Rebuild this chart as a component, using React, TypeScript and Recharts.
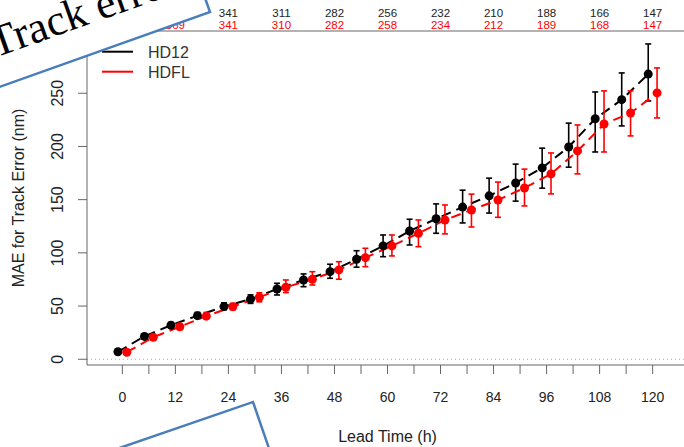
import {
  ComposedChart,
  Line,
  XAxis,
  YAxis,
  ErrorBar,
  ReferenceLine,
  Legend,
  Label,
} from 'recharts'

// lead times (h) and MAE for track error (nm)
const leadTimes = [0, 6, 12, 18, 24, 30, 36, 42, 48, 54, 60, 66, 72, 78, 84, 90, 96, 102, 108, 114, 120]

const hd12Mae = [7, 21.5, 32, 41, 49.5, 56.5, 66, 74.5, 82.3, 94, 106.5, 120.5, 132, 143, 153.6, 165.7, 179.8, 199.5, 226, 244, 268]
const hd12Low = [5, 19, 29.5, 38.5, 46.5, 52.5, 60.4, 68.2, 76.1, 86.5, 96.4, 107.4, 118.4, 128.1, 137.4, 148.6, 160.8, 180.5, 194.8, 219.3, 242.8]
const hd12High = [9, 24, 34.5, 44, 53, 60.5, 71.4, 80.2, 89.3, 102, 116.8, 131.6, 146, 158.9, 170.2, 183.4, 198.4, 221.9, 251.2, 269.1, 296.3]

const hdflMae = [6.6, 20.7, 30.6, 40.5, 49.4, 58.3, 67.7, 75.2, 84, 95.5, 106.5, 118.4, 130.9, 140.3, 149.7, 161, 174.2, 195.8, 221.1, 231.4, 250.3]
const hdflLow = [5, 18.5, 28, 38.5, 46.5, 54, 62.6, 69.8, 75.2, 87, 97.1, 105.8, 117.8, 124.3, 133.4, 144.1, 155.4, 174.2, 194.8, 209.9, 226.8]
const hdflHigh = [8.5, 23, 33, 44, 52.5, 62.5, 74.5, 82.3, 91.7, 104.3, 116.8, 130.9, 145, 155.2, 166.5, 178.7, 193.9, 220.2, 252.2, 252.2, 273.8]

// number of cases along the top
const countTimes = [0, 12, 24, 36, 48, 60, 72, 84, 96, 108, 120]
const hd12Count = [400, 369, 341, 311, 282, 256, 232, 210, 188, 166, 147]
const hdflCount = [400, 369, 341, 310, 282, 258, 234, 212, 189, 168, 147]

const yTicks = [0, 50, 100, 150, 200, 250]

// the two models are drawn 1 h either side of the lead time
const SHIFT = 1

function buildSeries(mae: number[], low: number[], high: number[], shift: number) {
  return leadTimes.map((t, i) => ({
    x: t + shift,
    mae: mae[i],
    err: [mae[i] - low[i], high[i] - mae[i]],
  }))
}

const hd12Data = buildSeries(hd12Mae, hd12Low, hd12High, -SHIFT)
const hdflData = buildSeries(hdflMae, hdflLow, hdflHigh, SHIFT)

const AXIS = '#666'
const TEXT = '#222'

const YTick = ({ x, y, payload }: any) => (
  <text x={x} y={y} transform={`rotate(-90 ${x} ${y})`} textAnchor="middle" fontSize={16} fill={TEXT}>
    {payload.value}
  </text>
)

// bottom tick: lead time label, plus the case counts up in the top margin
const LeadTick = ({ x, y, payload }: any) => {
  const v = payload.value
  const i = countTimes.indexOf(v)
  if (i < 0) return <g />
  return (
    <g>
      <text x={x} y={y} dy="0.71em" textAnchor="middle" fontSize={14} fill={TEXT}>
        {v}
      </text>
      <text x={x} y={17.3} textAnchor="middle" fontSize={11.5} fill={TEXT}>
        {hd12Count[i]}
      </text>
      <text x={x} y={29} textAnchor="middle" fontSize={11.5} fill="#ff0000">
        {hdflCount[i]}
      </text>
    </g>
  )
}

const LegendBox = ({ payload }: any) => (
  <svg width={100} height={44}>
    {(payload || []).map((p: any, i: number) => (
      <g key={p.value}>
        <line x1={2} x2={33} y1={11.7 + i * 20} y2={11.7 + i * 20} stroke={p.color} strokeWidth={2} />
        <text x={48} y={17.5 + i * 20} fontSize={16} fill="#333">
          {p.value}
        </text>
      </g>
    ))}
  </svg>
)

export default function App() {
  return (
    <div
      style={{
        position: 'absolute',
        left: 0,
        top: 0,
        width: 684,
        height: 447,
        overflow: 'hidden',
        background: '#fff',
        fontFamily: '"Liberation Sans", Arial, sans-serif',
      }}
    >
      <ComposedChart width={698} height={447} margin={{ top: 0, right: 10, bottom: 0, left: 0 }}>
        <XAxis
          dataKey="x"
          type="number"
          domain={[-8, 128]}
          allowDataOverflow
          ticks={leadTimes}
          interval={0}
          height={82}
          tickSize={9}
          tickMargin={18}
          stroke={AXIS}
          tick={<LeadTick />}
        >
          <Label
            content={(p: any) => {
              const vb = p.viewBox
              return (
                <text x={vb.x + vb.width / 2} y={vb.y + vb.height - 5} textAnchor="middle" fontSize={16} fill={TEXT}>
                  Lead Time (h)
                </text>
              )
            }}
          />
        </XAxis>
        <XAxis
          xAxisId="top"
          orientation="top"
          type="number"
          domain={[-8, 128]}
          allowDataOverflow
          height={31}
          tickLine={false}
          tick={false}
          stroke={AXIS}
        />
        <YAxis
          type="number"
          domain={[-5.4, 308.5]}
          allowDataOverflow
          ticks={yTicks}
          interval={0}
          width={87}
          tickSize={9}
          tickMargin={15}
          stroke={AXIS}
          tick={<YTick />}
        >
          <Label
            content={(p: any) => {
              const vb = p.viewBox
              const cx = 24
              const cy = vb.y + vb.height / 2
              return (
                <text x={cx} y={cy} transform={`rotate(-90 ${cx} ${cy})`} textAnchor="middle" fontSize={16} fill={TEXT}>
                  MAE for Track Error (nm)
                </text>
              )
            }}
          />
        </YAxis>
        <ReferenceLine y={0} stroke="#aaa" strokeDasharray="1 3" />
        <Legend
          layout="vertical"
          align="center"
          verticalAlign="middle"
          wrapperStyle={{ left: 100, top: 40, width: 100, height: 44 }}
          content={<LegendBox />}
        />
        <Line
          data={hd12Data}
          dataKey="mae"
          name="HD12"
          stroke="#000"
          strokeWidth={2}
          strokeDasharray="10 6"
          dot={{ r: 4.5, fill: '#000', stroke: 'none' }}
          isAnimationActive={false}
        >
          <ErrorBar dataKey="err" direction="y" width={3} stroke="#000" strokeWidth={1.6} />
        </Line>
        <Line
          data={hdflData}
          dataKey="mae"
          name="HDFL"
          stroke="#ff0000"
          strokeWidth={2}
          strokeDasharray="10 6"
          dot={{ r: 4.5, fill: '#ff0000', stroke: 'none' }}
          isAnimationActive={false}
        >
          <ErrorBar dataKey="err" direction="y" width={3} stroke="#ff0000" strokeWidth={1.6} />
        </Line>
      </ComposedChart>
      <svg
        width={684}
        height={447}
        style={{ position: 'absolute', left: 0, top: 0, pointerEvents: 'none' }}
      >
        <g transform="translate(210 12) rotate(-19.6)">
          <rect x={-440} y={-150} width={440} height={150} fill="#fff" stroke="#4a7ebb" strokeWidth={2.5} />
          <text x={-218} y={-29} fontFamily='"Liberation Serif", "Times New Roman", serif' fontSize={44} fill="#000">
            Track error
          </text>
        </g>
        <g transform="translate(253 402) rotate(-19)">
          <rect x={-320} y={0} width={320} height={160} fill="#fff" stroke="#4a7ebb" strokeWidth={2.5} />
        </g>
      </svg>
    </div>
  )
}
